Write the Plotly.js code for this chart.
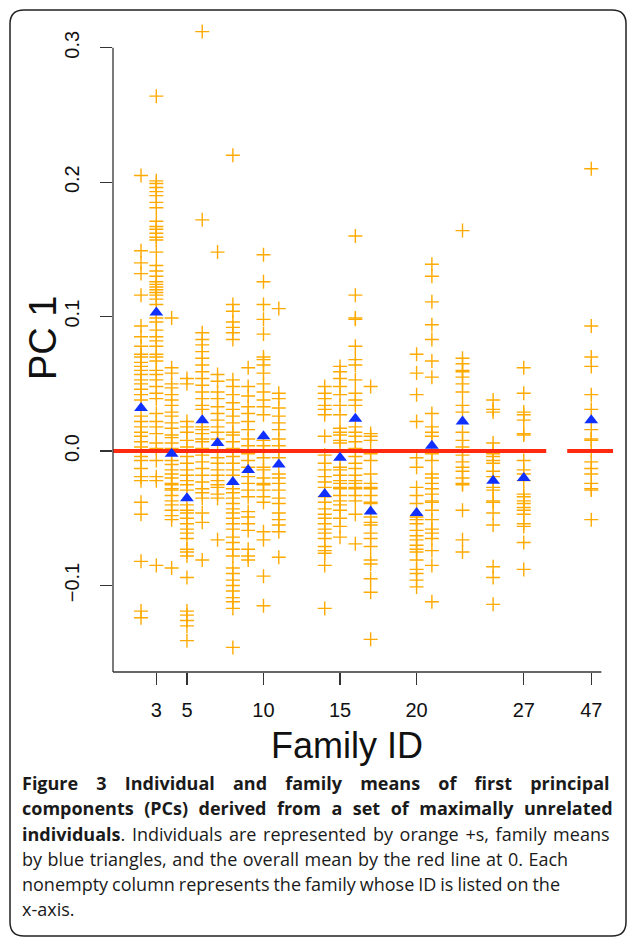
<!DOCTYPE html>
<html><head><meta charset="utf-8">
<script src="https://cdn.plot.ly/plotly-3.0.1.min.js"></script>
<style>html,body{margin:0;padding:0;background:#fff}#chart{width:627px;height:939px}</style>
</head><body><div id="chart"></div>
<script>
// ---- data ----
const familyIds = [2,3,4,5,6,7,8,9,10,11,14,15,16,17,20,21,23,25,27,47];
const fam2 = [0.205,0.149,0.140,0.132,0.116,0.093,0.085,0.078,0.072,0.070,0.066,0.063,0.060,0.057,0.053,0.050,0.046,0.042,0.038,0.026,0.022,0.018,0.014,0.011,0.007,0.003,0.000,-0.004,-0.007,-0.013,-0.019,-0.022,-0.038,-0.047,-0.082,-0.119,-0.124];
const fam3 = [0.264,0.201,0.199,0.196,0.193,0.190,0.185,0.181,0.171,0.167,0.165,0.162,0.159,0.157,0.148,0.138,0.134,0.130,0.126,0.124,0.122,0.120,0.118,0.116,0.113,0.109,0.099,0.096,0.090,0.085,0.082,0.078,0.072,0.070,0.067,0.060,0.057,0.053,0.048,0.043,0.039,0.028,0.022,0.018,0.013,0.006,0.002,-0.007,-0.019,-0.022,-0.085];
const fam4 = [0.099,0.062,0.058,0.050,0.047,0.042,0.038,0.034,0.029,0.026,0.021,0.017,0.012,0.010,0.006,0.002,-0.007,-0.010,-0.014,-0.017,-0.020,-0.024,-0.025,-0.028,-0.029,-0.033,-0.037,-0.040,-0.044,-0.048,-0.051,-0.087];
const fam5 = [0.054,0.050,0.022,0.018,0.014,0.008,0.003,-0.004,-0.009,-0.014,-0.018,-0.022,-0.025,-0.029,-0.040,-0.044,-0.046,-0.050,-0.054,-0.058,-0.061,-0.065,-0.073,-0.075,-0.078,-0.094,-0.119,-0.122,-0.126,-0.130,-0.141];
const fam6 = [0.312,0.172,0.088,0.083,0.079,0.074,0.069,0.064,0.059,0.054,0.049,0.044,0.039,0.034,0.031,0.018,0.016,0.013,0.009,0.007,0.002,-0.003,-0.008,-0.013,-0.018,-0.023,-0.028,-0.031,-0.035,-0.046,-0.053,-0.081];
const fam7 = [0.148,0.057,0.052,0.044,0.039,0.033,0.028,0.023,0.018,0.014,0.009,0.001,-0.005,-0.009,-0.014,-0.018,-0.022,-0.025,-0.027,-0.032,-0.035,-0.066];
const fam8 = [0.220,0.109,0.104,0.096,0.092,0.088,0.083,0.053,0.048,0.042,0.036,0.031,0.026,0.021,0.014,0.012,0.007,0.002,-0.004,-0.009,-0.014,-0.018,-0.028,-0.031,-0.035,-0.039,-0.043,-0.046,-0.050,-0.054,-0.058,-0.064,-0.068,-0.073,-0.078,-0.087,-0.091,-0.096,-0.100,-0.104,-0.109,-0.112,-0.117,-0.146];
const fam9 = [0.062,0.048,0.041,0.033,0.028,0.022,0.016,0.009,0.004,-0.002,-0.007,-0.012,-0.019,-0.024,-0.029,-0.034,-0.045,-0.049,-0.054,-0.059,-0.073,-0.078,-0.081];
const fam10 = [0.146,0.126,0.109,0.098,0.087,0.070,0.068,0.064,0.058,0.050,0.044,0.038,0.033,0.027,0.008,0.004,0.000,-0.005,-0.012,-0.014,-0.020,-0.024,-0.025,-0.029,-0.034,-0.038,-0.060,-0.066,-0.093,-0.115];
const fam11 = [0.106,0.043,0.039,0.032,0.026,0.021,0.016,0.009,0.004,0.000,-0.005,-0.017,-0.020,-0.024,-0.029,-0.035,-0.039,-0.046,-0.051,-0.055,-0.060,-0.079];
const fam14 = [0.048,0.043,0.039,0.034,0.031,0.027,0.011,-0.003,-0.009,-0.014,-0.019,-0.023,-0.027,-0.034,-0.038,-0.043,-0.047,-0.050,-0.054,-0.058,-0.061,-0.065,-0.071,-0.074,-0.076,-0.085,-0.117];
const fam15 = [0.063,0.059,0.054,0.048,0.042,0.034,0.027,0.017,0.014,0.012,0.008,0.006,-0.012,-0.014,-0.018,-0.022,-0.024,-0.027,-0.028,-0.033,-0.037,-0.040,-0.044,-0.050,-0.056,-0.064];
const fam16 = [0.160,0.116,0.099,0.098,0.078,0.068,0.064,0.053,0.043,0.038,0.034,0.018,0.014,0.011,0.007,0.002,-0.004,-0.009,-0.013,-0.018,-0.022,-0.024,-0.027,-0.028,-0.033,-0.037,-0.047,-0.069];
const fam17 = [0.048,0.013,0.011,0.008,-0.002,-0.007,-0.017,-0.024,-0.027,-0.028,-0.033,-0.038,-0.039,-0.049,-0.053,-0.055,-0.061,-0.065,-0.071,-0.081,-0.084,-0.095,-0.105,-0.140];
const fam20 = [0.072,0.058,0.042,0.022,-0.005,-0.012,-0.027,-0.033,-0.039,-0.049,-0.051,-0.054,-0.059,-0.063,-0.066,-0.070,-0.073,-0.075,-0.081,-0.088,-0.091,-0.096,-0.101];
const fam21 = [0.139,0.130,0.111,0.094,0.083,0.067,0.055,0.028,0.018,0.014,0.011,-0.002,-0.007,-0.017,-0.020,-0.024,-0.028,-0.032,-0.037,-0.038,-0.044,-0.051,-0.058,-0.061,-0.065,-0.074,-0.085,-0.112];
const fam23 = [0.164,0.069,0.065,0.060,0.059,0.055,0.050,0.044,0.034,0.029,0.014,0.008,0.003,-0.003,-0.008,-0.012,-0.015,-0.020,-0.024,-0.025,-0.044,-0.066,-0.075];
const fam25 = [0.038,0.031,0.029,0.006,0.001,-0.002,-0.004,-0.007,-0.009,-0.015,-0.019,-0.027,-0.029,-0.037,-0.038,-0.046,-0.055,-0.086,-0.094,-0.114];
const fam27 = [0.062,0.043,0.029,0.027,0.023,0.013,0.012,-0.007,-0.014,-0.017,-0.022,-0.032,-0.034,-0.037,-0.039,-0.042,-0.044,-0.047,-0.054,-0.056,-0.068,-0.088];
const fam47 = [0.210,0.093,0.070,0.063,0.042,0.031,0.016,0.009,0.008,0.000,-0.008,-0.013,-0.017,-0.024,-0.028,-0.029,-0.051];
const individuals = [fam2,fam3,fam4,fam5,fam6,fam7,fam8,fam9,fam10,fam11,fam14,fam15,fam16,fam17,fam20,fam21,fam23,fam25,fam27,fam47];
const familyMeans = [0.032,0.103,-0.002,-0.035,0.023,0.006,-0.023,-0.014,0.011,-0.010,-0.032,-0.005,0.024,-0.045,-0.046,0.004,0.022,-0.022,-0.020,0.023];
const overallMean = 0;
const xTickIds = [3,5,10,15,20,27,47];
const yTickVals = [-0.1,0.0,0.1,0.2,0.3];
const yTickText = ['\u22120.1','0.0','0.1','0.2','0.3'];

// ---- broken x axis: IDs up to 27 at their value, 47 placed after a break ----
const BREAK_LO = 28.47, BREAK_HI = 29.84, POS_47 = 31.41;
function axisPos(id){ return id <= 27 ? id : POS_47; }
const X_RANGE = [0.17, 32.83];
const Y_RANGE = [-0.1643, 0.3303];
const Y_AXIS_TOP = 0.3;

const ix = [], iy = [];
individuals.forEach((vals, k) => vals.forEach(v => { ix.push(axisPos(familyIds[k])); iy.push(v); }));

const W = 627, H = 939;
const M = {l:113, r:14, t:7, b:267};
const PW = W - M.l - M.r, PH = H - M.t - M.b;
const pxX = px => (px - M.l) / PW;
const pxY = py => (H - M.b - py) / PH;

const traces = [
  {type:'scatter', mode:'markers', x: ix, y: iy, cliponaxis:false, hoverinfo:'y',
   marker:{symbol:'cross-thin-open', size:10, color:'#FFAA00', line:{color:'#FFAA00', width:1.4}}},
  {type:'scatter', mode:'lines', x:[X_RANGE[0], BREAK_LO, null, BREAK_HI, X_RANGE[1]],
   y:[overallMean, overallMean, null, overallMean, overallMean], connectgaps:false,
   line:{color:'#FF2A10', width:4}, hoverinfo:'skip'},
  {type:'scatter', mode:'markers', x: familyIds.map(axisPos), y: familyMeans, cliponaxis:false,
   marker:{symbol:'triangle-up', size:12, color:'#1030FF', line:{width:0}}}
];

// frame (rounded rectangle) in paper coordinates
const fx0 = pxX(10), fx1 = pxX(626), fy0 = pxY(936), fy1 = pxY(10);
const rx = 14 / PW, ry = 14 / PH;
const framePath = `M ${fx0},${fy1-ry} L ${fx0},${fy0+ry} Q ${fx0},${fy0} ${fx0+rx},${fy0} L ${fx1-rx},${fy0} Q ${fx1},${fy0} ${fx1},${fy0+ry} L ${fx1},${fy1-ry} Q ${fx1},${fy1} ${fx1-rx},${fy1} L ${fx0+rx},${fy1} Q ${fx0},${fy1} ${fx0},${fy1-ry} Z`;

const xEnd = (32.07 - X_RANGE[0]) / (X_RANGE[1] - X_RANGE[0]);

const captionLines = [
  {t:'<span style="word-spacing:13.5px"><b>Figure 3 Individual and family means of first principal</b></span>', y:783},
  {t:'<span style="word-spacing:5.8px"><b>components (PCs) derived from a set of maximally unrelated</b></span>', y:808},
  {t:'<span style="word-spacing:2px"><b>individuals</b>. Individuals are represented by orange +s, family means</span>', y:834},
  {t:'<span style="word-spacing:0.8px">by blue triangles, and the overall mean by the red line at 0. Each</span>', y:859},
  {t:'<span style="word-spacing:-0.7px">nonempty column represents the family whose ID is listed on the</span>', y:884},
  {t:'x-axis.', y:909}
];

const annotations = captionLines.map(c => ({
  xref:'paper', yref:'paper', x:pxX(20), y:pxY(c.y), xanchor:'left', yanchor:'middle',
  text:c.t, showarrow:false, align:'left',
  font:{family:'Open Sans, sans-serif', size:18, color:'#1a1a1a'}
}));
const titleFont = {family:'Liberation Sans, Arial, sans-serif', size:36, color:'#111'};
annotations.push({xref:'paper', yref:'paper', x:pxX(347), y:pxY(745), xanchor:'center', yanchor:'middle',
  text:'Family ID', showarrow:false, font:titleFont});
annotations.push({xref:'paper', yref:'paper', x:pxX(43), y:pxY(338), xanchor:'center', yanchor:'middle',
  text:'PC 1', textangle:-90, showarrow:false, font:{family:titleFont.family, size:38, color:'#111'}});

const axisFont = {family:'Liberation Sans, Arial, sans-serif', size:20, color:'#111'};

const layout = {
  width:W, height:H, margin:M, paper_bgcolor:'#fff', plot_bgcolor:'#fff', showlegend:false,
  xaxis:{range:X_RANGE, tickmode:'array', tickvals:xTickIds.map(axisPos), ticktext:xTickIds.map(String),
    ticks:'outside', ticklen:12, tickwidth:1.3, tickcolor:'#333', showgrid:false, zeroline:false, showline:false,
    tickfont:axisFont, ticklabelstandoff:8},
  yaxis:{range:Y_RANGE, tickmode:'array', tickvals:yTickVals, ticktext:yTickText, tickangle:-90,
    ticks:'outside', ticklen:12, tickwidth:1.3, tickcolor:'#333', showgrid:false, zeroline:false, showline:false,
    tickfont:axisFont, ticklabelstandoff:13},
  shapes:[
    {type:'line', xref:'paper', yref:'y', x0:0, x1:0, y0:Y_RANGE[0], y1:Y_AXIS_TOP, line:{color:'#333', width:1.3}},
    {type:'line', xref:'paper', yref:'paper', x0:0, x1:xEnd, y0:0, y1:0, line:{color:'#333', width:1.3}},
    {type:'path', xref:'paper', yref:'paper', path:framePath, line:{color:'#222', width:1.5}}
  ],
  annotations: annotations
};

Plotly.newPlot('chart', traces, layout, {displayModeBar:false, staticPlot:true});
</script></body></html>
